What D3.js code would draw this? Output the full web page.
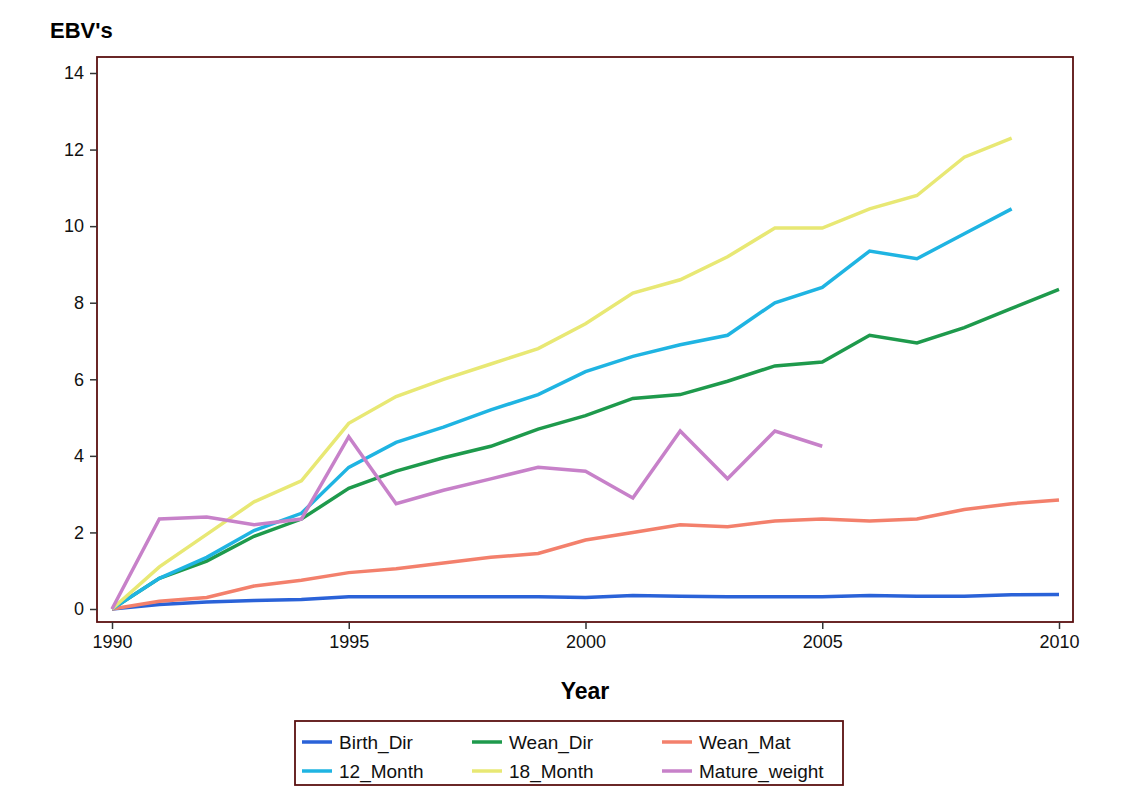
<!DOCTYPE html>
<html>
<head>
<meta charset="utf-8">
<script src="https://d3js.org/d3.v7.min.js"></script>
<style>
  body { margin: 0; background: #fff; }
  text { font-family: Arial, "Liberation Sans", sans-serif; }
</style>
</head>
<body>
<script>
  var years = d3.range(1990, 2011);
  var birthDir = [0, .12, .18, .22, .25, .32, .32, .32, .32, .32, .3, .35, .33, .32, .32, .32, .35, .33, .33, .37, .38];
  var weanDir = [0, .8, 1.25, 1.9, 2.35, 3.15, 3.6, 3.95, 4.25, 4.7, 5.05, 5.5, 5.6, 5.95, 6.35, 6.45, 7.15, 6.95, 7.35, 7.85, 8.35];
  var weanMat = [0, .2, .3, .6, .75, .95, 1.05, 1.2, 1.35, 1.45, 1.8, 2.0, 2.2, 2.15, 2.3, 2.35, 2.3, 2.35, 2.6, 2.75, 2.85];
  var month12 = [0, .8, 1.35, 2.05, 2.5, 3.7, 4.35, 4.75, 5.2, 5.6, 6.2, 6.6, 6.9, 7.15, 8.0, 8.4, 9.35, 9.15, 9.8, 10.45];
  var month18 = [0, 1.1, 1.95, 2.8, 3.35, 4.85, 5.55, 6.0, 6.4, 6.8, 7.45, 8.25, 8.6, 9.2, 9.95, 9.95, 10.45, 10.8, 11.8, 12.3];
  var matureWeight = [0, 2.35, 2.4, 2.2, 2.35, 4.5, 2.75, 3.1, 3.4, 3.7, 3.6, 2.9, 4.65, 3.4, 4.65, 4.25];
  var xTicks = [1990, 1995, 2000, 2005, 2010];
  var yTicks = [0, 2, 4, 6, 8, 10, 12, 14];

  var series = [
    {name: "Birth_Dir", values: birthDir, color: "#2a62d8"},
    {name: "Wean_Dir", values: weanDir, color: "#1e9a4c"},
    {name: "Wean_Mat", values: weanMat, color: "#f3806c"},
    {name: "12_Month", values: month12, color: "#1fb4e2"},
    {name: "18_Month", values: month18, color: "#e8e874"},
    {name: "Mature_weight", values: matureWeight, color: "#c781c9"}
  ];

  var svg = d3.select("body").append("svg").attr("width", 1143).attr("height", 786);
  var frameColor = "#5a1010";

  var x = d3.scaleLinear().domain([1990, 2010]).range([112, 1059]);
  var y = d3.scaleLinear().domain([0, 14]).range([609, 73]);

  svg.append("rect").attr("x", 97).attr("y", 57).attr("width", 976).attr("height", 565)
    .attr("fill", "none").attr("stroke", frameColor).attr("stroke-width", 1.8);

  var yAxis = svg.append("g").attr("transform", "translate(97,0)")
    .call(d3.axisLeft(y).tickValues(yTicks).tickSize(7).tickPadding(6));
  var xAxis = svg.append("g").attr("transform", "translate(0,622)")
    .call(d3.axisBottom(x).tickValues(xTicks).tickFormat(d3.format("d")).tickSize(7).tickPadding(6));
  [xAxis, yAxis].forEach(function(a) {
    a.select(".domain").remove();
    a.selectAll("line").attr("stroke", "#333").attr("stroke-width", 1.5);
    a.selectAll("text").attr("font-size", 18).attr("fill", "#111").style("font-family", "Arial, sans-serif");
  });

  svg.append("text").attr("x", 50).attr("y", 38).attr("font-size", 22).attr("font-weight", "bold").text("EBV's");
  svg.append("text").attr("x", 585).attr("y", 699).attr("text-anchor", "middle")
    .attr("font-size", 23).attr("font-weight", "bold").text("Year");

  var line = d3.line().x(function(d, i) { return x(years[i]); }).y(function(d) { return y(d); });
  series.forEach(function(s) {
    svg.append("path").datum(s.values).attr("d", line).attr("fill", "none")
      .attr("stroke", s.color).attr("stroke-width", 3.5);
  });

  svg.append("rect").attr("x", 295).attr("y", 721).attr("width", 548).attr("height", 64)
    .attr("fill", "none").attr("stroke", frameColor).attr("stroke-width", 1.8);
  var cols = [302, 472, 662];
  series.forEach(function(s, i) {
    var lx = cols[i % 3], ly = 742 + Math.floor(i / 3) * 29;
    svg.append("line").attr("x1", lx).attr("x2", lx + 30).attr("y1", ly).attr("y2", ly)
      .attr("stroke", s.color).attr("stroke-width", 3.5);
    svg.append("text").attr("x", lx + 37).attr("y", ly + 7).attr("font-size", 19).attr("fill", "#111").text(s.name);
  });
</script>
</body>
</html>
